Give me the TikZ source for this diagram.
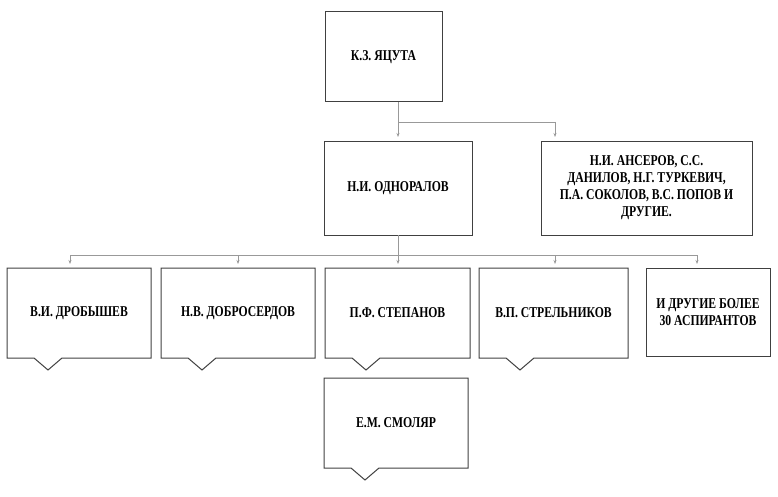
\documentclass[tikz,border=0pt]{standalone}
\usepackage{fontspec}
\setmainfont{Liberation Serif}[FakeStretch=0.78]
\usetikzlibrary{arrows.meta}
\begin{document}
\begin{tikzpicture}[x=1pt,y=-1pt,
  lbl/.style={font=\bfseries\fontsize{15}{17}\selectfont,align=center},
  con/.style={draw=gray!80,line width=0.6pt},
  arr/.style={con,-{Stealth[length=4pt,width=3pt]}},
  bx/.style={draw=black!75,line width=1pt}]
\useasboundingbox (0,0) rectangle (778,497);
\newcommand\plainbox[5]{\draw[bx] (#1,#2) rectangle (#3,#4); \node[lbl] (#5) at ({(#1+#3)/2},{(#2+#4)/2}) {};}
\newcommand\notchbox[5]{\draw[bx] (#1,#2) -- (#3,#2) -- (#3,#4) -- ({#1+55},#4) -- ({#1+41},#4+12) -- ({#1+27},#4) -- (#1,#4) -- cycle;}
% top
\draw[bx] (325,12) rectangle (442,102);
\node[lbl] (yac) at (383.5,57) {К.З. ЯЦУТА};
\draw[bx] (324,142) rectangle (472,235);
\node[lbl] (odn) at (398,188) {Н.И. ОДНОРАЛОВ};
\draw[bx] (541,142) rectangle (752,235);
\node[lbl] (ans) at (646.5,188) {Н.И. АНСЕРОВ, С.С.\\ДАНИЛОВ, Н.Г. ТУРКЕВИЧ,\\П.А. СОКОЛОВ, В.С. ПОПОВ И\\ДРУГИЕ.};
% bottom row
\notchbox{7}{268}{151}{358}{}
\node[lbl] (b1) at (79,313) {В.И. ДРОБЫШЕВ};
\notchbox{161}{268}{315}{358}{}
\node[lbl] (b2) at (238,313) {Н.В. ДОБРОСЕРДОВ};
\notchbox{325}{268}{470}{358}{}
\node[lbl] (b3) at (397.5,313) {П.Ф. СТЕПАНОВ};
\notchbox{479}{268}{628}{358}{}
\node[lbl] (b4) at (553.5,313) {В.П. СТРЕЛЬНИКОВ};
\draw[bx] (646,268) rectangle (770,356);
\node[lbl] (b5) at (708,312) {И ДРУГИЕ БОЛЕЕ\\30 АСПИРАНТОВ};
\notchbox{324}{378}{468}{468}{}
\node[lbl] (sm) at (396,423) {Е.М. СМОЛЯР};
% connectors
\coordinate (j1) at (398,122);
\coordinate (j2) at (555,122);
\draw[con] (398,102) -- (j1) -- (j2);
\draw[arr] (j1) -- (398,137);
\draw[arr] (j2) -- (555,137);
\coordinate (k) at (398,255);
\draw[con] (398,235) -- (k);
\draw[con] (70,255) -- (697,255);
\foreach \x in {70,238,398,555,697} \draw[arr] (\x,255) -- (\x,264);
\end{tikzpicture}
\end{document}
